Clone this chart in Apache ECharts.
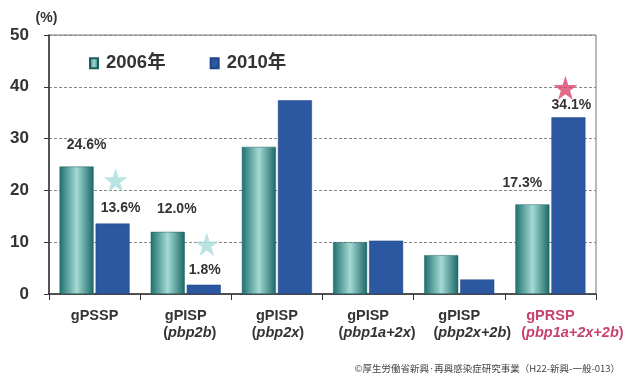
<!DOCTYPE html>
<html>
<head>
<meta charset="utf-8">
<script src="https://cdn.jsdelivr.net/npm/echarts@6/dist/echarts.min.js"></script>
<style>
  html, body { margin: 0; padding: 0; background: #fff; }
  #chart { width: 627px; height: 378px; }
</style>
</head>
<body>
<div id="chart"></div>
<script>
// Genotype groups (name line + gene line)
const groupNames = ['gPSSP', 'gPISP', 'gPISP', 'gPISP', 'gPISP', 'gPRSP'];
const geneNames = ['', 'pbp2b', 'pbp2x', 'pbp1a+2x', 'pbp2x+2b', 'pbp1a+2x+2b'];
const seriesNames = ['2006年', '2010年'];

// Share of isolates (%)
const values2006 = [24.6, 12.0, 28.4, 10.0, 7.5, 17.3];
const values2010 = [13.6, 1.8, 37.4, 10.3, 2.8, 34.1];

// Which bars carry a value label
const labeled2006 = [true, true, false, false, false, true];
const labeled2010 = [true, true, false, false, false, true];

// Star markers above selected 2010 bars: [category index, level (%)]
const starsBlue = [[0, 22.0], [1, 9.6]];
const starsPink = [[5, 39.8]];

const yTicks = [0, 10, 20, 30, 40, 50];
const footerText = '©厚生労働省新興·再興感染症研究事業（H22-新興-一般-013）';

const highlightIndex = 5;
const categories = groupNames.map((n, i) => String(i));

// rightward nudge (px) of the gene line so long names stay clear of neighbours
const geneShift = [0, 4, 1, 9, 13, 22];

const chart = echarts.init(document.getElementById('chart'));

const tealGradient = new echarts.graphic.LinearGradient(0, 0, 1, 0, [
  { offset: 0, color: '#1d706e' },
  { offset: 0.5, color: '#a5dad5' },
  { offset: 1, color: '#1b6867' }
]);

const labelStyle = { color: '#333', fontWeight: 'bold', fontSize: 14, fontFamily: 'Arial, "Liberation Sans", sans-serif' };

// per-item label offsets (style only)
const offsets2006 = [[10, -6], [9, -8], [0, 0], [0, 0], [0, 0], [-10, -6]];
const offsets2010 = [[8, 0], [1, 0], [0, 0], [0, 0], [0, 0], [3, 3]];

function barData(values, labeled, offsets) {
  return values.map((v, i) => ({
    value: v,
    label: labeled[i] ? {
      show: true, position: 'top', distance: 8, offset: offsets[i],
      formatter: v.toFixed(1) + '%', ...labelStyle
    } : { show: false }
  }));
}

const xFont = 14.5;
const rich = {};
['', 'H'].forEach(h => {
  const color = h ? '#c8426f' : '#333';
  rich['n' + h] = { fontSize: xFont, fontWeight: 'bold', color, lineHeight: 17 };
  rich['p' + h] = { fontSize: xFont, fontWeight: 'bold', color, lineHeight: 17 };
  rich['i' + h] = { fontSize: xFont, fontWeight: 'bold', fontStyle: 'italic', color, lineHeight: 17 };
});
geneShift.forEach((s, i) => { rich['s' + i] = { width: 2 * s, lineHeight: 17 }; });

chart.setOption({
  animation: false,
  textStyle: { fontFamily: 'Arial, "Liberation Sans", "Noto Sans CJK JP", sans-serif' },
  title: {
    text: footerText,
    right: 2, bottom: 0,
    textStyle: { fontSize: 9.5, fontWeight: 'normal', color: '#444', fontFamily: '"Noto Sans CJK JP", sans-serif' }
  },
  legend: {
    data: seriesNames,
    left: 84, top: 49,
    itemWidth: 8, itemHeight: 10, itemGap: 44,
    icon: 'rect',
    textStyle: { fontSize: 18.5, fontWeight: 'bold', color: '#333', fontFamily: 'Arial, "Noto Sans CJK JP", sans-serif', padding: [0, 0, 0, 3] }
  },
  grid: { left: 49, right: 31, top: 35, bottom: 84, show: true, borderColor: '#777', borderWidth: 1 },
  xAxis: {
    type: 'category',
    data: categories,
    axisLine: { lineStyle: { color: '#333', width: 1.5 } },
    axisTick: { show: true, length: 6, lineStyle: { color: '#333' } },
    axisLabel: {
      margin: 13,
      interval: 0,
      formatter: (val) => {
        const i = +val;
        const hi = i === highlightIndex ? 'H' : '';
        let s = '{n' + hi + '|' + groupNames[i] + '}';
        if (geneNames[i]) {
          s += '\n{s' + i + '|}{p' + hi + '|(}{i' + hi + '|' + geneNames[i] + '}{p' + hi + '|)}';
        }
        return s;
      },
      rich
    }
  },
  yAxis: {
    type: 'value',
    min: yTicks[0], max: yTicks[yTicks.length - 1], interval: 10,
    name: '(%)',
    nameLocation: 'end',
    nameGap: 10,
    nameTextStyle: { fontSize: 14, fontWeight: 'bold', color: '#333', align: 'center', padding: [0, 0, 0, -5] },
    axisLine: { show: true, lineStyle: { color: '#333', width: 1.5 } },
    axisTick: { show: true, length: 5, lineStyle: { color: '#333' } },
    axisLabel: { fontSize: 17, fontWeight: 'bold', color: '#333', margin: 20 },
    splitLine: { lineStyle: { color: '#888', type: [3, 2], width: 1 } }
  },
  series: [
    {
      name: seriesNames[0], type: 'bar',
      barWidth: 34, barGap: '6%',
      itemStyle: { color: tealGradient, borderColor: '#1a5e5e', borderWidth: 0.5 },
      data: barData(values2006, labeled2006, offsets2006)
    },
    {
      name: seriesNames[1], type: 'bar',
      barWidth: 34,
      itemStyle: { color: '#2b58a0', borderColor: '#1e4585', borderWidth: 0.5 },
      data: barData(values2010, labeled2010, offsets2010)
    },
    {
      type: 'scatter', symbol: 'path://M50,0 L61.8,36.2 L100,36.2 L69.1,58.8 L80.9,95.1 L50,72.6 L19.1,95.1 L30.9,58.8 L0,36.2 L38.2,36.2 Z',
      symbolSize: 24, symbolOffset: [21, 0],
      itemStyle: { color: '#a9dcdc' },
      data: starsBlue.map(([c, v]) => [String(c), v]),
      silent: true, z: 5
    },
    {
      type: 'scatter', symbol: 'path://M50,0 L61.8,36.2 L100,36.2 L69.1,58.8 L80.9,95.1 L50,72.6 L19.1,95.1 L30.9,58.8 L0,36.2 L38.2,36.2 Z',
      symbolSize: 24, symbolOffset: [15, 0],
      itemStyle: { color: '#d9466c' },
      data: starsPink.map(([c, v]) => [String(c), v]),
      silent: true, z: 5
    }
  ]
});
</script>
</body>
</html>
